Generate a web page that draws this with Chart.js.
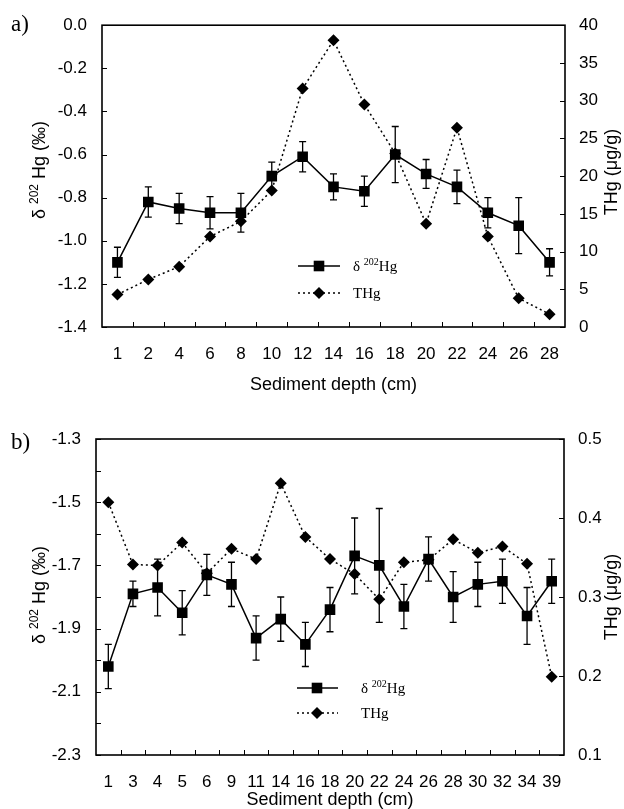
<!DOCTYPE html>
<html><head><meta charset="utf-8">
<script src="https://cdn.jsdelivr.net/npm/chart.js@4.4.1/dist/chart.umd.min.js"></script>
<style>
html,body{margin:0;padding:0;background:#fff;}
#wrap{position:relative;width:624px;height:809px;background:#fff;}
canvas{position:absolute;left:0;}
</style></head><body>
<div id="wrap">
<canvas id="ca" width="624" height="400" style="top:0"></canvas>
<canvas id="cb" width="624" height="409" style="top:400px"></canvas>
</div>
<script>
// ---- Panel a data ----
const depthA = ['1','2','4','6','8','10','12','14','16','18','20','22','24','26','28'];
const d202A  = [-1.10,-0.82,-0.85,-0.87,-0.87,-0.70,-0.61,-0.75,-0.77,-0.60,-0.69,-0.75,-0.87,-0.93,-1.10];
const errA   = [0.07,0.07,0.07,0.075,0.09,0.065,0.07,0.06,0.07,0.13,0.067,0.078,0.07,0.13,0.063];
const thgA   = [4.3,6.3,8.0,12.0,14.0,18.1,31.6,38.0,29.5,23.0,13.7,26.4,12.0,3.8,1.7];
// ---- Panel b data ----
const depthB = ['1','3','4','5','6','9','11','14','16','18','20','22','24','26','28','30','32','34','39'];
const d202B  = [-2.02,-1.79,-1.77,-1.85,-1.73,-1.76,-1.93,-1.87,-1.95,-1.84,-1.67,-1.70,-1.83,-1.68,-1.80,-1.76,-1.75,-1.86,-1.75];
const errB   = [0.07,0.04,0.09,0.07,0.065,0.07,0.07,0.07,0.07,0.07,0.12,0.18,0.07,0.07,0.08,0.07,0.07,0.09,0.07];
const thgB   = [0.42,0.341,0.34,0.369,0.33,0.361,0.348,0.444,0.376,0.348,0.329,0.297,0.344,0.347,0.373,0.356,0.364,0.342,0.199];

const SANS = "'Liberation Sans', Arial, sans-serif";
const SERIF = "'Liberation Serif', 'Times New Roman', serif";

function makeChart(canvas, o) {
  const deco = {
    id: 'deco',
    beforeDatasetsDraw(chart) {
      const ctx = chart.ctx, xs = chart.scales.x, yl = chart.scales.yL;
      ctx.save();
      ctx.strokeStyle = '#000'; ctx.lineWidth = 1.3;
      o.d202.forEach((v, i) => {
        const x = xs.getPixelForValue(i);
        const t = yl.getPixelForValue(v + o.err[i]);
        const b = yl.getPixelForValue(v - o.err[i]);
        ctx.beginPath();
        ctx.moveTo(x, t); ctx.lineTo(x, b);
        ctx.moveTo(x - 3.5, t); ctx.lineTo(x + 3.5, t);
        ctx.moveTo(x - 3.5, b); ctx.lineTo(x + 3.5, b);
        ctx.stroke();
      });
      ctx.restore();
    },
    afterDraw(chart) {
      const ctx = chart.ctx, a = chart.chartArea;
      const xs = chart.scales.x, yl = chart.scales.yL, yr = chart.scales.yR;
      ctx.save();
      ctx.strokeStyle = '#000'; ctx.lineWidth = 1.6;
      ctx.strokeRect(a.left, a.top, a.right - a.left, a.bottom - a.top);
      ctx.lineWidth = 1;
      ctx.beginPath();
      yl.ticks.forEach(t => { const y = Math.round(yl.getPixelForValue(t.value)) + 0.5; ctx.moveTo(a.left, y); ctx.lineTo(a.left + 5, y); });
      yr.ticks.forEach(t => { const y = Math.round(yr.getPixelForValue(t.value)) + 0.5; ctx.moveTo(a.right, y); ctx.lineTo(a.right - 5, y); });
      const n = o.labels.length;
      for (let i = 1; i < n; i++) {
        const x = Math.round((xs.getPixelForValue(i - 1) + xs.getPixelForValue(i)) / 2) + 0.5;
        ctx.moveTo(x, a.bottom); ctx.lineTo(x, a.bottom - 5);
      }
      ctx.stroke();

      ctx.fillStyle = '#000';
      // panel label
      ctx.font = '23px ' + SERIF; ctx.textAlign = 'left'; ctx.textBaseline = 'middle';
      ctx.fillText(o.panel, 11, o.panelY);
      // x title
      ctx.font = '18px ' + SANS; ctx.textAlign = 'center'; ctx.textBaseline = 'middle';
      ctx.fillText('Sediment depth (cm)', (a.left + a.right) / 2, o.xTitleY);
      // left title (rotated)
      ctx.save();
      ctx.translate(45, o.lTitleY); ctx.rotate(-Math.PI / 2);
      ctx.textAlign = 'left'; ctx.textBaseline = 'alphabetic';
      const parts = [['δ ', 18, 0], ['202', 12, -7], [' Hg (‰)', 18, 0]];
      let w = 0;
      parts.forEach(p => { ctx.font = p[1] + 'px ' + SANS; w += ctx.measureText(p[0]).width; });
      let cx = -w / 2;
      parts.forEach(p => { ctx.font = p[1] + 'px ' + SANS; ctx.fillText(p[0], cx, p[2]); cx += ctx.measureText(p[0]).width; });
      ctx.restore();
      // right title (rotated, reads bottom to top)
      ctx.save();
      ctx.translate(617, o.rTitleY); ctx.rotate(-Math.PI / 2);
      ctx.font = '18px ' + SANS; ctx.textAlign = 'center'; ctx.textBaseline = 'alphabetic';
      ctx.fillText('THg (μg/g)', 0, 0);
      ctx.restore();
      // legend
      const L = o.legend;
      ctx.lineWidth = 1.5;
      ctx.beginPath(); ctx.moveTo(L.x1, L.y1); ctx.lineTo(L.x2, L.y1); ctx.stroke();
      ctx.setLineDash([2, 3]);
      ctx.beginPath(); ctx.moveTo(L.x1, L.y2); ctx.lineTo(L.x2, L.y2); ctx.stroke();
      ctx.setLineDash([]);
      ctx.fillRect(L.mx - 5.3, L.y1 - 5.3, 10.6, 10.6);
      ctx.beginPath();
      ctx.moveTo(L.mx, L.y2 - 6); ctx.lineTo(L.mx + 6, L.y2); ctx.lineTo(L.mx, L.y2 + 6); ctx.lineTo(L.mx - 6, L.y2);
      ctx.closePath(); ctx.fill();
      ctx.textAlign = 'left'; ctx.textBaseline = 'alphabetic';
      let tx = L.tx;
      ctx.font = '15px ' + SERIF; ctx.fillText('δ ', tx, L.y1 + 5); tx += ctx.measureText('δ ').width;
      ctx.font = '10px ' + SERIF; ctx.fillText('202', tx, L.y1 - 1); tx += ctx.measureText('202').width;
      ctx.font = '15px ' + SERIF; ctx.fillText('Hg', tx, L.y1 + 5);
      ctx.fillText('THg', L.tx, L.y2 + 5);
      ctx.restore();
    }
  };

  return new Chart(canvas, {
    type: 'line',
    data: {
      labels: o.labels,
      datasets: [
        { label: 'δ202Hg', data: o.d202, yAxisID: 'yL', borderColor: '#000', backgroundColor: '#000',
          borderWidth: 1.5, tension: 0, pointStyle: 'rect', pointRadius: 7.5, pointHoverRadius: 7.5,
          pointBorderWidth: 0, pointBackgroundColor: '#000' },
        { label: 'THg', data: o.thg, yAxisID: 'yR', borderColor: '#000', backgroundColor: '#000',
          borderWidth: 1.5, borderDash: [2, 3], tension: 0, pointStyle: 'rectRot', pointRadius: 6, pointHoverRadius: 6,
          pointBorderWidth: 0, pointBackgroundColor: '#000' }
      ]
    },
    options: {
      responsive: false, animation: false,
      layout: { padding: { top: o.padTop, left: 0, right: 0, bottom: 0 } },
      plugins: { legend: { display: false }, tooltip: { enabled: false } },
      scales: {
        x: { type: 'category', offset: true,
             grid: { display: false, drawTicks: false }, border: { display: false },
             ticks: { color: '#000', font: { family: SANS, size: 17 }, padding: 17, maxRotation: 0, minRotation: 0, autoSkip: false },
             afterFit: s => { s.height = o.xH; } },
        yL: { type: 'linear', position: 'left', min: o.lMin, max: o.lMax,
              grid: { display: false, drawTicks: false }, border: { display: false },
              ticks: { stepSize: o.lStep, color: '#000', font: { family: SANS, size: 17 }, padding: 15, callback: o.lFmt },
              afterFit: s => { s.width = o.lW; } },
        yR: { type: 'linear', position: 'right', min: o.rMin, max: o.rMax,
              grid: { display: false, drawTicks: false }, border: { display: false },
              ticks: { stepSize: o.rStep, color: '#000', font: { family: SANS, size: 17 }, padding: 14, callback: o.rFmt },
              afterFit: s => { s.width = o.rW; } }
      }
    },
    plugins: [deco]
  });
}

makeChart(document.getElementById('ca'), {
  labels: depthA, d202: d202A, err: errA, thg: thgA,
  padTop: 22, xH: 73, lW: 102, rW: 59,
  lMin: -1.4, lMax: 0, lStep: 0.2,
  lFmt: v => Math.abs(v) < 1e-9 ? '0.0' : v.toFixed(1),
  rMin: 0, rMax: 40, rStep: 5, rFmt: v => String(Math.round(v)),
  panel: 'a)', panelY: 25, xTitleY: 385, lTitleY: 170, rTitleY: 172,
  legend: { x1: 298, x2: 340, mx: 319, y1: 266, y2: 293, tx: 353 }
});

makeChart(document.getElementById('cb'), {
  labels: depthB, d202: d202B, err: errB, thg: thgB,
  padTop: 39, xH: 54, lW: 96, rW: 60,
  lMin: -2.3, lMax: -1.3, lStep: 0.1,
  lFmt: (v, i) => (i % 2 === 0 ? v.toFixed(1) : ''),
  rMin: 0.1, rMax: 0.5, rStep: 0.1, rFmt: v => v.toFixed(1),
  panel: 'b)', panelY: 43, xTitleY: 400, lTitleY: 195, rTitleY: 197,
  legend: { x1: 297, x2: 338, mx: 317, y1: 288, y2: 313, tx: 361 }
});
</script>
</body></html>
